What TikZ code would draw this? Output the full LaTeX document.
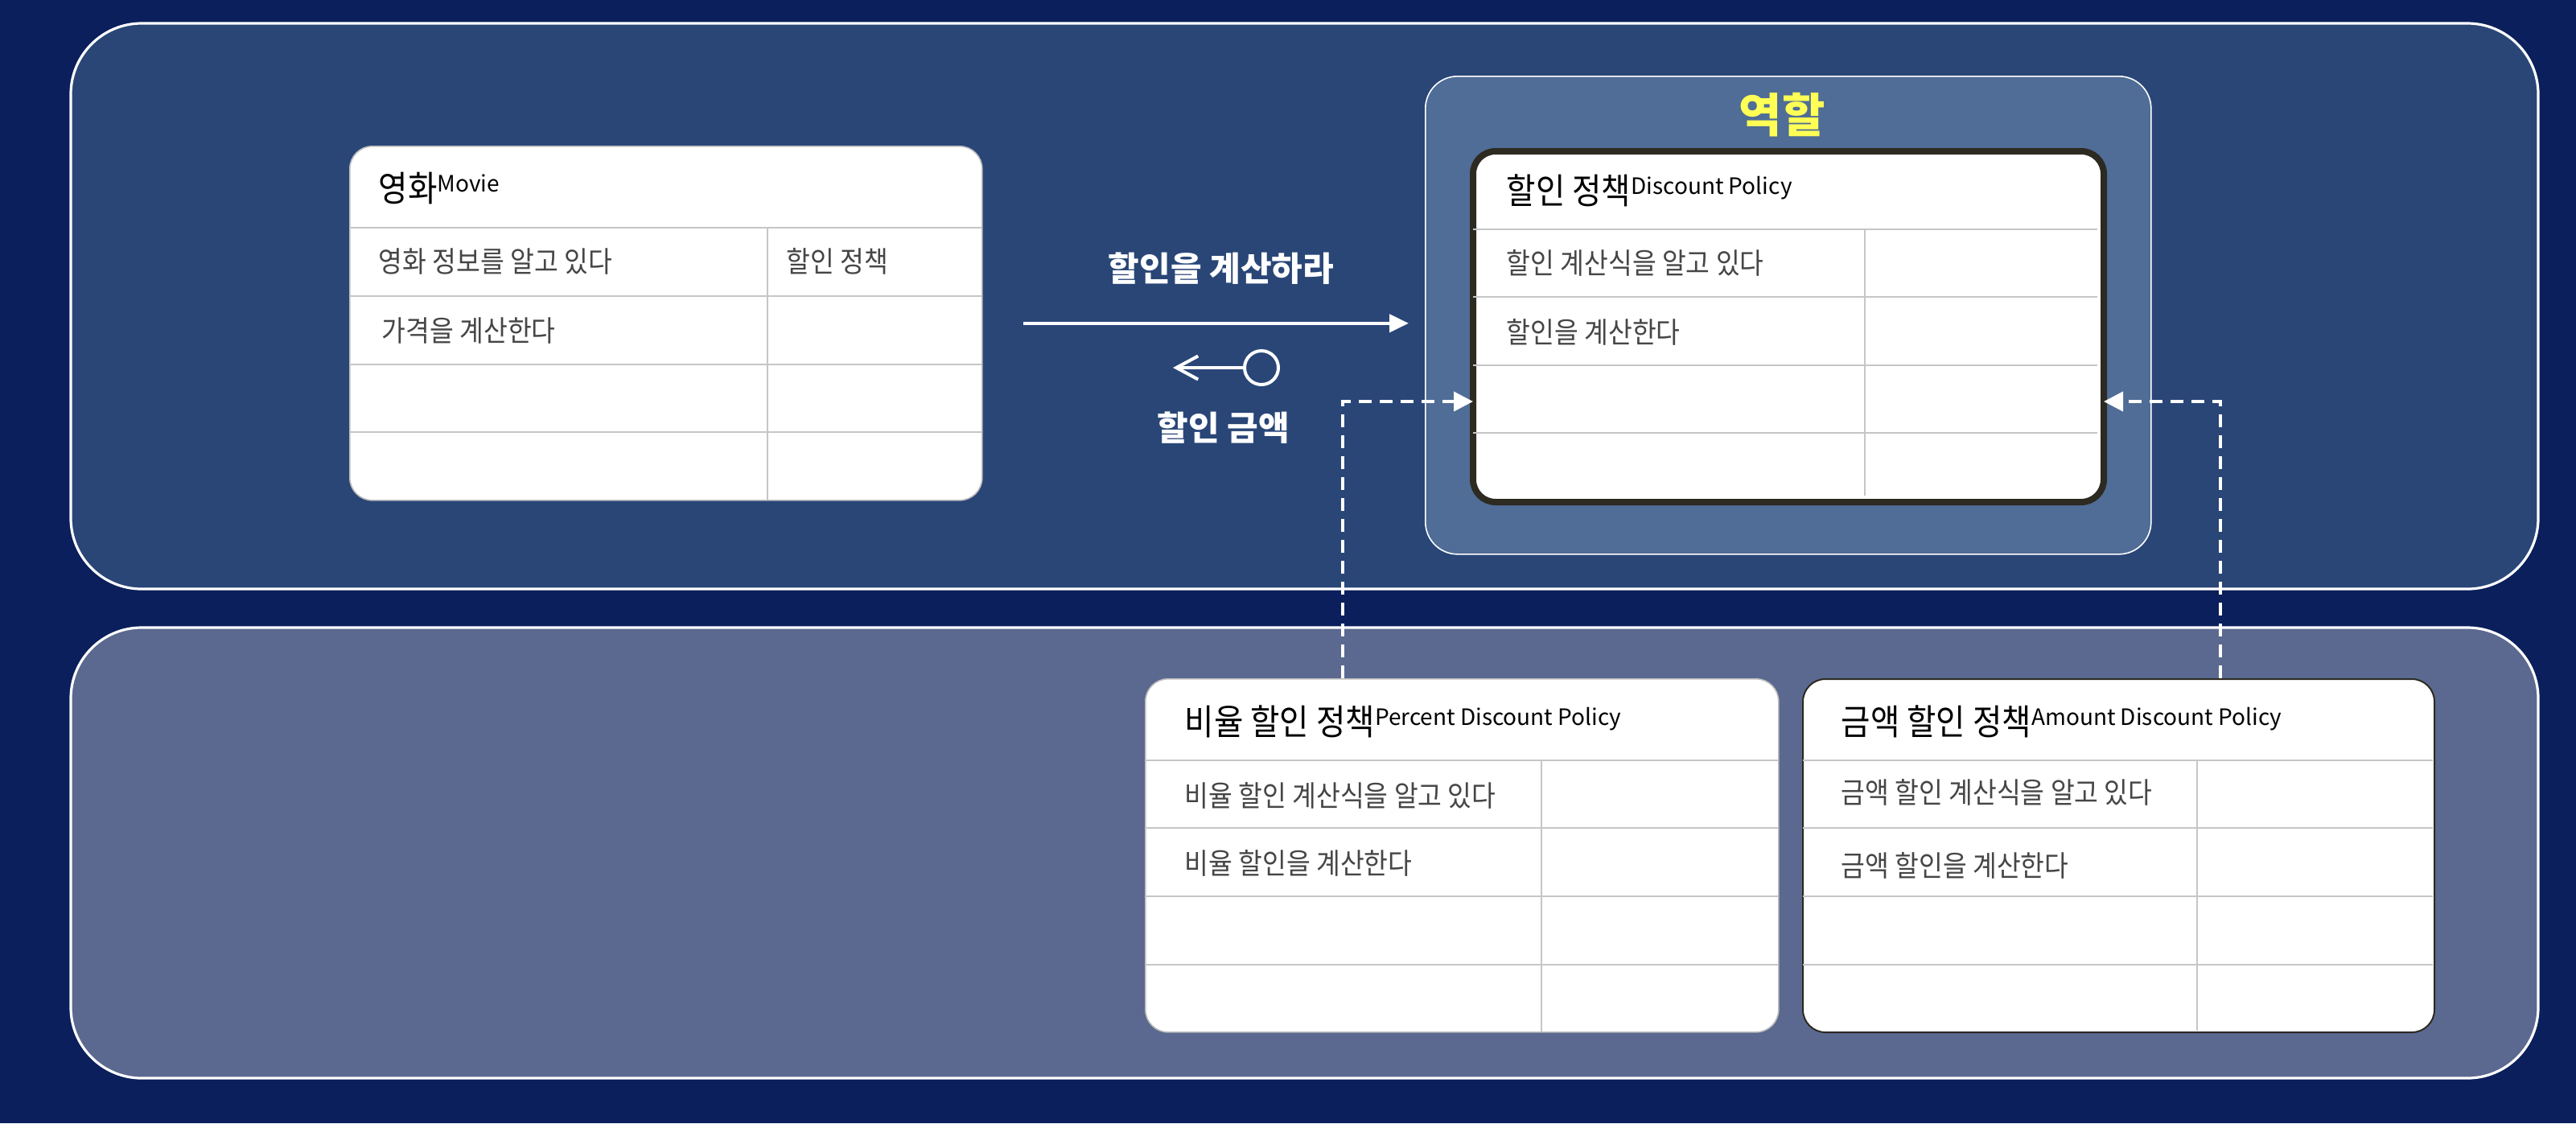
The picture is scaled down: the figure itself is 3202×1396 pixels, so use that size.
\documentclass[tikz,border=0pt]{standalone}
\usepackage{fontspec}
\usetikzlibrary{arrows.meta,calc,positioning}

\newfontfamily\krfont[FakeStretch=0.9]{Noto Sans CJK KR}
\newfontfamily\latinfont{Noto Sans CJK KR}

\definecolor{bgnavy}{HTML}{0A1F5B}
\definecolor{panelup}{HTML}{294677}
\definecolor{panellow}{HTML}{5B6990}
\definecolor{rolefill}{HTML}{4F6D96}
\definecolor{cardedge}{HTML}{BDBDBD}
\definecolor{gridgray}{HTML}{C6C6C6}
\definecolor{rowink}{HTML}{464646}
\definecolor{roleedge}{HTML}{2D2A22}
\definecolor{roleyellow}{HTML}{FFFF55}

\newcommand\rowtxt{\krfont\fontsize{9pt}{11pt}\selectfont}
\newcommand\ttltxt{\krfont\fontsize{11pt}{13pt}\selectfont}
\newcommand\subtxt{\latinfont\fontsize{7pt}{8pt}\selectfont}
\newcommand\msgtxt{\latinfont\bfseries\fontsize{10.5pt}{12pt}\selectfont}

\begin{document}
\begin{tikzpicture}[x=0.25pt,y=0.25pt,yscale=-1,
  panel/.style={draw=white,line width=0.8pt,rounded corners=22pt},
  card/.style={anchor=north west,inner sep=0pt,fill=white,draw=cardedge,line width=0.4pt,rounded corners=7pt},
  gridline/.style={draw=gridgray,line width=0.5pt},
  rowlabel/.style={anchor=west,inner sep=0pt,text=rowink,font=\rowtxt},
  headlabel/.style={anchor=base west,inner sep=0pt,text=black,font=\ttltxt},
  msglabel/.style={inner sep=0pt,text=white,font=\msgtxt},
  msg/.style={draw=white,line width=1.1pt,-{Triangle[length=6pt,width=5.5pt]}},
  reply/.style={draw=white,line width=1pt,-{Straight Barb[length=6.75pt,width=7.25pt]}},
  impl/.style={draw=white,line width=1pt,dash pattern=on 4pt off 2.5pt,shorten >=-1pt,-{Triangle[length=6pt,width=6pt]}}
]
%background
\fill[bgnavy] (0,0) rectangle (3202,1396);

%Panels
\draw[panel,fill=panelup] (88,29) rectangle (3155,732);
\draw[panel,fill=panellow] (88,780) rectangle (3155,1340);

%Role box
\node[anchor=north west,inner sep=0pt,minimum width=225.5pt,minimum height=148.5pt,fill=rolefill,draw=white,line width=0.4pt,rounded corners=10pt] (role) at (1771,94) {};
\node[inner sep=0pt,text=roleyellow,font=\latinfont\bfseries\fontsize{14.5pt}{16pt}\selectfont] (roletitle) at (2215,143) {역할};

%Movie card
\node[card,minimum width=196.5pt,minimum height=110pt] (movie) at (434,181) {};
\draw[gridline] (434,283) -- (1220,283);
\draw[gridline] (434,368) -- (1220,368);
\draw[gridline] (434,453) -- (1220,453);
\draw[gridline] (434,537) -- (1220,537);
\draw[gridline] (954,283) -- (954,621);

%Discount policy card
\node[card,draw=roleedge,line width=2pt,minimum width=196pt,minimum height=109pt] (policy) at (1827,184) {};
\draw[gridline] (1831,285) -- (2607,285);
\draw[gridline] (1831,369) -- (2607,369);
\draw[gridline] (1831,454) -- (2607,454);
\draw[gridline] (1831,538) -- (2607,538);
\draw[gridline] (2318,285) -- (2318,616);

%Percent card
\node[card,minimum width=196.75pt,minimum height=109.75pt] (percent) at (1423,843) {};
\draw[gridline] (1423,945) -- (2210,945);
\draw[gridline] (1423,1029) -- (2210,1029);
\draw[gridline] (1423,1114) -- (2210,1114);
\draw[gridline] (1423,1199) -- (2210,1199);
\draw[gridline] (1916,945) -- (1916,1282);

%Amount card
\node[card,draw=roleedge,line width=0.5pt,minimum width=196.25pt,minimum height=109.75pt] (amount) at (2240,843) {};
\draw[gridline] (2241,945) -- (3024,945);
\draw[gridline] (2241,1029) -- (3024,1029);
\draw[gridline] (2241,1114) -- (3024,1114);
\draw[gridline] (2241,1199) -- (3024,1199);
\draw[gridline] (2731,945) -- (2731,1281);

% Text Node
\node[headlabel] (movietitle) at (470,250) {영화\raisebox{3pt}{\subtxt Movie}};
\node[rowlabel] (movierow1) at (470,325) {영화 정보를 알고 있다};
\node[rowlabel] (movierow1b) at (977,325) {할인 정책};
\node[rowlabel] (movierow2) at (474,411) {가격을 계산한다};
% Text Node
\node[headlabel] (policytitle) at (1872,253) {할인 정책\raisebox{3pt}{\subtxt Discount Policy}};
\node[rowlabel] (policyrow1) at (1872,327) {할인 계산식을 알고 있다};
\node[rowlabel] (policyrow2) at (1872,413) {할인을 계산한다};
% Text Node
\node[headlabel] (percenttitle) at (1472,913) {비율 할인 정책\raisebox{3pt}{\subtxt Percent Discount Policy}};
\node[rowlabel] (percentrow1) at (1472,989) {비율 할인 계산식을 알고 있다};
\node[rowlabel] (percentrow2) at (1472,1073) {비율 할인을 계산한다};
% Text Node
\node[headlabel] (amounttitle) at (2288,913) {금액 할인 정책\raisebox{3pt}{\subtxt Amount Discount Policy}};
\node[rowlabel] (amountrow1) at (2288,985) {금액 할인 계산식을 알고 있다};
\node[rowlabel] (amountrow2) at (2288,1076) {금액 할인을 계산한다};

%Messages
\node[msglabel] (callmsg) at (1518,334) {할인을 계산하라};
\draw[msg] ($(movie.east)+(50,0)$) -- ($(role.west |- movie.east)+(-20,0)$);
\node[draw=white,line width=1pt,circle,minimum size=10.5pt,inner sep=0pt] (retdot) at (1568,457) {};
\coordinate (replytip) at (1458,457);
\draw[reply] (retdot.west) -- (replytip);
\node[msglabel] (retmsg) at (1521,532) {할인 금액};

%Realisations
\coordinate (bendL) at (1669,499);
\coordinate (bendR) at (2760,499);
\draw[impl] (bendL |- percent.north) -- (bendL) -- (bendL -| policy.west);
\draw[impl] (bendR |- amount.north) -- (bendR) -- (bendR -| policy.east);
\end{tikzpicture}
\end{document}
